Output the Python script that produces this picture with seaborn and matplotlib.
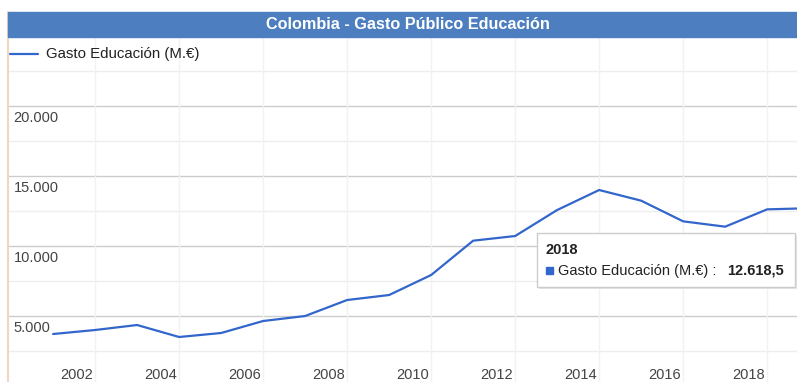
import seaborn as sns
import matplotlib.pyplot as plt
from matplotlib.patches import Rectangle
import pandas as pd

# datos
years = list(range(2001, 2020))
gasto = [3714, 4000, 4357, 3500, 3786, 4643, 5000, 6143, 6500, 7929,
         10380, 10714, 12571, 14000, 13238, 11762, 11381, 12618.5, 12700]
y_ticks = [5000, 10000, 15000, 20000]
y_tick_labels = ["5.000", "10.000", "15.000", "20.000"]
x_ticks = list(range(2002, 2019, 2))

W, H = 797, 382
df = pd.DataFrame({"year": years, "gasto": gasto})

sns.set_style("white")
plt.rcParams['font.family'] = ['Liberation Sans', 'DejaVu Sans']
fig = plt.figure(figsize=(W / 100, H / 100), dpi=100)

# area del grafico (pixeles -> fraccion de figura)
left, right, top, bottom = 9, 797, 37, 382
ax = fig.add_axes([left / W, 1 - bottom / H, (right - left) / W, (bottom - top) / H])

sns.lineplot(data=df, x="year", y="gasto", color="#3366cc", linewidth=1.6, ax=ax)

# points sit ~0.45 year after the year label
ax.set_xlim(1999.95, 2018.71)
ax.set_ylim(286, 24930)

for v in [2500 * k for k in range(1, 10)]:
    if v % 5000 == 0:
        ax.axhline(v, color="#cccccc", linewidth=1, zorder=0)
    else:
        ax.axhline(v, color="#eeeeee", linewidth=1, zorder=0)
for x in x_ticks:
    ax.axvline(x, color="#f2f2f2", linewidth=1, zorder=0)

for v, lab in zip(y_ticks, y_tick_labels):
    ax.text(0.006, v - 850, lab, transform=ax.get_yaxis_transform(),
            ha="left", va="center", fontsize=10.5, color="#444444")
for x in x_ticks:
    ax.text(x - 0.45, 0.02, str(x), transform=ax.get_xaxis_transform(),
            ha="center", va="center", fontsize=10.5, color="#444444")

ax.set_xticks([])
ax.set_yticks([])
ax.set_xlabel("")
ax.set_ylabel("")
for s in ax.spines.values():
    s.set_visible(False)
if ax.get_legend():
    ax.get_legend().remove()

# legend
ax.plot([1999.98, 2000.64], [23714, 23714], color="#3366cc", linewidth=1.6, clip_on=False)
ax.text(2000.83, 23714, "Gasto Educación (M.€)", ha="left", va="center",
        fontsize=10.8, color="#222222")

# barra de titulo
fig.patches.append(Rectangle((8 / W, 1 - 37 / H), (W - 8) / W, 25 / H,
                             transform=fig.transFigure, color="#4d7fc0", zorder=5))
fig.text(408 / W, 1 - 24.5 / H, "Colombia - Gasto Público Educación", ha="center",
         va="center", fontsize=11.7, fontweight="bold", color="white", zorder=6)
fig.lines.append(plt.Line2D([8 / W, 8 / W], [0, 1 - 12 / H], transform=fig.transFigure,
                            color="#f0d6c2", linewidth=1.5))

# tooltip
tx0, ty0, tx1, ty1 = 537, 233, 795, 287
fig.patches.append(Rectangle((tx0 / W + 0.002, 1 - ty1 / H - 0.005), (tx1 - tx0) / W, (ty1 - ty0) / H,
                             transform=fig.transFigure, facecolor="#e6e6e6", edgecolor="none", zorder=7))
fig.patches.append(Rectangle((tx0 / W, 1 - ty1 / H), (tx1 - tx0) / W, (ty1 - ty0) / H,
                             transform=fig.transFigure, facecolor="white", edgecolor="#cccccc",
                             linewidth=1, zorder=8))
fig.text(546 / W, 1 - 250 / H, "2018", ha="left", va="center", fontsize=10.5,
         fontweight="bold", color="#222222", zorder=9)
fig.patches.append(Rectangle((546 / W, 1 - 274 / H), 7 / W, 7 / H, transform=fig.transFigure,
                             color="#3366cc", zorder=9))
fig.text(558 / W, 1 - 270.5 / H, "Gasto Educación (M.€) : ", ha="left", va="center",
         fontsize=10.5, color="#222222", zorder=9)
fig.text(727 / W, 1 - 270.5 / H, "12.618,5", ha="left", va="center", fontsize=10.5,
         fontweight="bold", color="#222222", zorder=9)

fig.savefig("out.png", dpi=100)
